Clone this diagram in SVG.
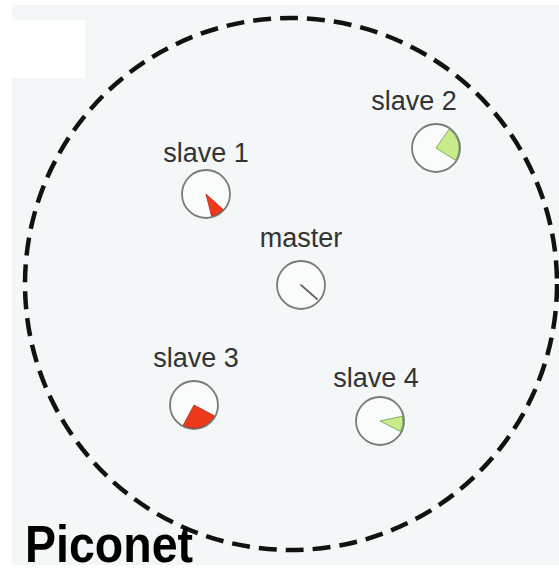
<svg xmlns="http://www.w3.org/2000/svg" width="559" height="574" viewBox="0 0 559 574">
<style>
.lbl{font-family:"Liberation Sans",Arial,sans-serif;font-size:27px;fill:#333;text-anchor:middle}
.ring{fill:#fafcfc;stroke:#7a7a7a;stroke-width:1.8}
.red{fill:#ee3a1a;stroke:#a82a12;stroke-width:0.8}
.green{fill:#c8eb8c;stroke:#6f9a45;stroke-width:0.8}
.hand{stroke:#666;stroke-width:1.8;stroke-linecap:round}
</style>
<rect x="0" y="0" width="559" height="574" fill="#ffffff"/>
<rect x="12" y="5" width="547" height="560" fill="#f3f7f7"/>
<rect x="0" y="20" width="85" height="58" fill="#ffffff"/>
<g id="piconet-boundary">
<circle cx="291" cy="284" r="266" fill="none" stroke="#111" stroke-width="4.5" stroke-dasharray="18 9"/>
</g>
<g id="connectors"></g>
<g id="master">
<text class="lbl" x="301" y="247">master</text>
<circle class="ring" cx="301" cy="285" r="24"/>
<line class="hand" x1="301" y1="285" x2="317" y2="299"/>
</g>
<g id="slave1">
<text class="lbl" x="206" y="162">slave 1</text>
<circle class="ring" cx="206" cy="194" r="24"/>
<path class="red" d="M206,194 L223.1,209.4 A23,23 0 0 1 211.6,216.3 Z"/>
</g>
<g id="slave2">
<text class="lbl" x="414" y="110">slave 2</text>
<circle class="ring" cx="436" cy="148" r="24"/>
<path class="green" d="M436,148 L449.2,129.2 A23,23 0 0 1 455.5,160.2 Z"/>
</g>
<g id="slave3">
<text class="lbl" x="196" y="367">slave 3</text>
<circle class="ring" cx="194" cy="405" r="24"/>
<path class="red" d="M194,405 L214.3,415.8 A23,23 0 0 1 183.2,425.3 Z"/>
</g>
<g id="slave4">
<text class="lbl" x="376" y="387">slave 4</text>
<circle class="ring" cx="380" cy="421" r="24"/>
<path class="green" d="M380,421 L402.5,416.2 A23,23 0 0 1 400.5,431.4 Z"/>
</g>
<g id="title">
<text x="25" y="562" font-family="'Liberation Sans',Arial,sans-serif" font-weight="bold" font-size="52" fill="#000" textLength="168" lengthAdjust="spacingAndGlyphs">Piconet</text>
</g>
</svg>
